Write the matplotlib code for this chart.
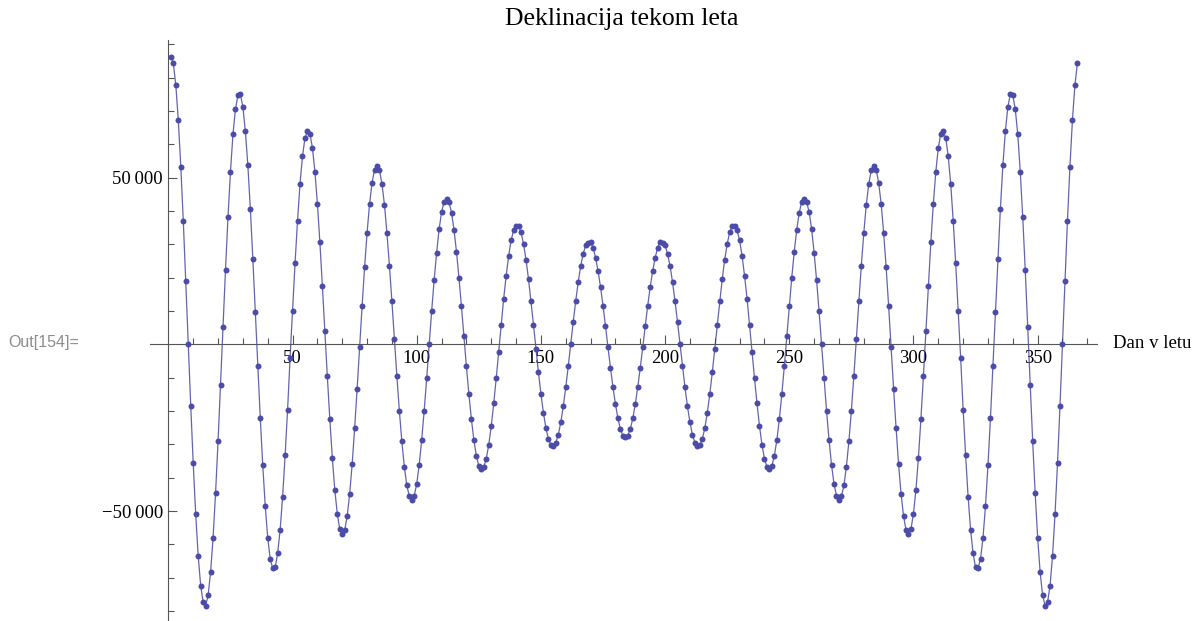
import numpy as np
import matplotlib.pyplot as plt
from matplotlib.ticker import FixedLocator, FixedFormatter

plt.rcParams['font.family'] = ['Liberation Serif', 'DejaVu Serif']

# dan v letu 1..366
dan = np.arange(1, 367)

deklinacija = [
    86300, 84300, 77700, 67200, 53300, 37100, 19000, 200, -18400, -35700,
    -51000, -63400, -72400, -77300, -78400, -75300, -68300, -58000, -44600, -29100,
    -12100, 5200, 22400, 38100, 51800, 63000, 70500, 74700, 75000, 71200,
    63900, 53700, 40700, 25700, 9800, -6400, -22100, -36300, -48500, -58000,
    -64400, -67200, -66900, -62700, -55600, -45700, -33300, -19600, -4000, 10100,
    24300, 37100, 48100, 56400, 61900, 64000, 63200, 58900, 51800, 42200,
    30600, 17600, 4000, -9600, -22400, -34000, -43600, -50800, -55400, -56800,
    -55700, -51500, -44800, -35900, -25100, -13300, -900, 11500, 23100, 33400,
    42100, 48400, 52400, 53600, 52200, 48100, 41900, 33400, 23600, 12900,
    1600, -9500, -19900, -29100, -36700, -42300, -45600, -46700, -45400, -41800,
    -36100, -28600, -19900, -10200, 0, 9900, 19200, 27500, 34500, 39700,
    42700, 43600, 42700, 39500, 34400, 27800, 20000, 11400, 2400, -6600,
    -15000, -22400, -28700, -33400, -36500, -37400, -36800, -34300, -30100, -24500,
    -17700, -10200, -2200, 5900, 13700, 20500, 26500, 31200, 34200, 35600,
    35400, 33600, 30100, 25400, 19600, 12900, 5900, -1400, -8400, -14900,
    -20500, -25100, -28300, -30200, -30400, -29500, -27100, -23400, -18600, -12900,
    -6600, 100, 6700, 12900, 18600, 23500, 27100, 29700, 30500, 30700,
    29000, 26000, 22000, 17200, 11600, 5500, -900, -7000, -12800, -17900,
    -22200, -25400, -27400, -27900, -27400, -25400, -22200, -17900, -12800, -7000,
    -900, 5500, 11600, 17200, 22000, 26000, 29000, 30700, 30500, 29700,
    27100, 23500, 18600, 12900, 6700, 100, -6600, -12900, -18600, -23400,
    -27100, -29500, -30400, -30200, -28300, -25100, -20500, -14900, -8400, -1400,
    5900, 12900, 19600, 25400, 30100, 33600, 35400, 35600, 34200, 31200,
    26500, 20500, 13700, 5900, -2200, -10200, -17700, -24500, -30100, -34300,
    -36800, -37400, -36500, -33400, -28700, -22400, -15000, -6600, 2400, 11400,
    20000, 27800, 34400, 39500, 42700, 43600, 42700, 39700, 34500, 27500,
    19200, 9900, 0, -10200, -19900, -28600, -36100, -41800, -45400, -46700,
    -45600, -42300, -36700, -29100, -19900, -9500, 1600, 12900, 23600, 33400,
    41900, 48100, 52200, 53600, 52400, 48400, 42100, 33400, 23100, 11500,
    -900, -13300, -25100, -35900, -44800, -51500, -55700, -56800, -55400, -50800,
    -43600, -34000, -22400, -9600, 4000, 17600, 30600, 42200, 51800, 58900,
    63200, 64000, 61900, 56400, 48100, 37100, 24300, 10100, -4000, -19600,
    -33300, -45700, -55600, -62700, -66900, -67200, -64400, -58000, -48500, -36300,
    -22100, -6400, 9800, 25700, 40700, 53700, 63900, 71200, 75000, 74700,
    70500, 63000, 51800, 38100, 22400, 5200, -12100, -29100, -44600, -58000,
    -68300, -75300, -78400, -77300, -72400, -63400, -51000, -35700, -18400, 200,
    19000, 37100, 53300, 67200, 77700, 84300,
]

x_ticks = [50, 100, 150, 200, 250, 300, 350]
x_minor = [t for t in range(10, 380, 10) if t % 50 != 0]
y_ticks = [-50000, 50000]
y_labels = ["\u221250\u2009000", "50\u2009000"]
y_minor = [t for t in range(-80000, 100000, 10000) if t != 0 and t % 50000 != 0]

W, H = 1197, 621
fig = plt.figure(figsize=(W / 100, H / 100), dpi=100)
ax = fig.add_axes([150 / W, 1 / H, 947 / W, 580 / H])

line_col = (0.24, 0.24, 0.6)
ax.plot(dan, deklinacija, "-", color=line_col, lw=0.9, alpha=0.8, zorder=2)
ax.plot(dan, deklinacija, "o", color="#4b4ba8", ms=4.3, mec="none", zorder=3)

ax.set_xlim(-7.4, 373.9)
ax.set_ylim(-82700, 91300)

for s in ["top", "right"]:
    ax.spines[s].set_visible(False)
for s in ["left", "bottom"]:
    ax.spines[s].set_position(("data", 0))
    ax.spines[s].set_color("#555555")
    ax.spines[s].set_linewidth(0.8)

ax.xaxis.set_major_locator(FixedLocator(x_ticks))
ax.xaxis.set_minor_locator(FixedLocator(x_minor))
ax.yaxis.set_major_locator(FixedLocator(y_ticks))
ax.yaxis.set_major_formatter(FixedFormatter(y_labels))
ax.yaxis.set_minor_locator(FixedLocator(y_minor))

ax.tick_params(which="major", direction="in", length=6.5, width=0.8,
               color="#555555", labelsize=13.5, pad=4)
ax.tick_params(which="minor", direction="in", length=4, width=0.8,
               color="#555555")

fig.text(622 / W, 1 - 19 / H, "Deklinacija tekom leta", ha="center",
         va="center", fontsize=18.5)
fig.text(1113 / W, 1 - 343 / H, "Dan v letu", ha="left", va="center",
         fontsize=13.5)
fig.text(8 / W, 1 - 343 / H, "Out[154]=", ha="left", va="center",
         family="Liberation Sans", color="#8c8c8c", fontsize=11.5)

fig.savefig("out.png", dpi=100)
